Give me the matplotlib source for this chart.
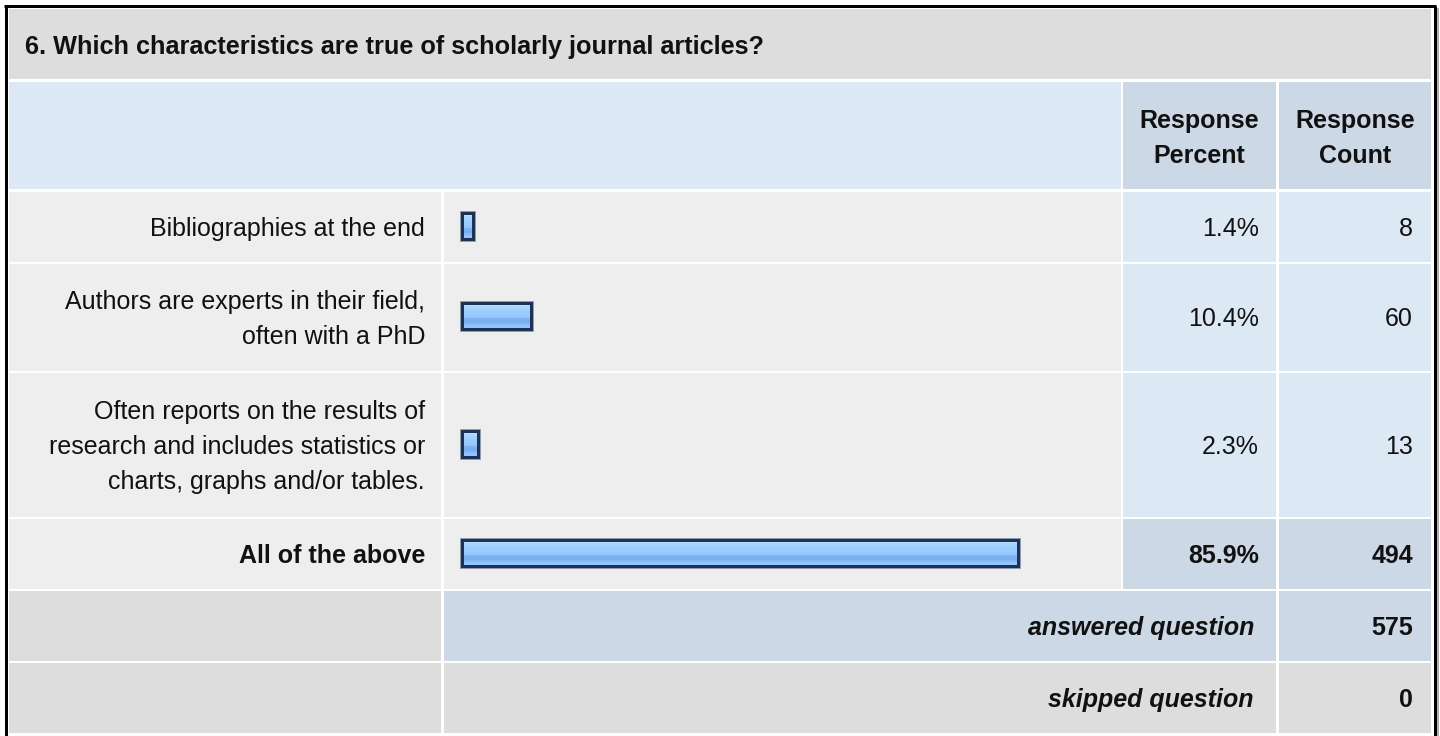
import matplotlib.pyplot as plt
from matplotlib.patches import Rectangle
from matplotlib.colors import to_rgb
import numpy as np

title = '6. Which characteristics are true of scholarly journal articles?'
col_headers = ['Response\nPercent', 'Response\nCount']
answer_labels = ['Bibliographies at the end',
                 'Authors are experts in their field,\noften with a PhD',
                 'Often reports on the results of\nresearch and includes statistics or\ncharts, graphs and/or tables.',
                 'All of the above']
response_percent = [1.4, 10.4, 2.3, 85.9]
response_count = [8, 60, 13, 494]
summary_labels = ['answered question', 'skipped question']
summary_counts = [575, 0]

plt.rcParams['font.family'] = ['Liberation Sans', 'DejaVu Sans']

GREY = '#dddddd'
LIGHT = '#eeeeee'
BLUE = '#dde8f5'
BLUE2 = '#ccd8e6'
FS = 18
LINE = 35
stripes = ['#cde7ff', '#b8deff', '#a8d5ff', '#9fd0ff', '#99ccff', '#99ccff',
           '#94c7fc', '#80b3f1', '#7aaeee', '#84b9f5', '#90c6ff', '#9fd0ff']

fig = plt.figure(figsize=(14.4, 7.36), dpi=100)
ax = fig.add_axes([0, 0, 1, 1])


def cell(x0, x1, y0, y1, color):
    ax.add_patch(Rectangle((x0, y0), x1 - x0, y1 - y0, facecolor=color,
                           edgecolor='none', zorder=1))


def put(x, yc, s, ha='right', weight='normal', style='normal'):
    lines = s.split('\n')
    n = len(lines)
    for i, ln in enumerate(lines):
        yb = yc + (i - (n - 1) / 2) * LINE + FS / 2.1
        ax.text(x, yb, ln, ha=ha, va='baseline', fontsize=FS,
                fontweight=weight, fontstyle=style, color='#111111', zorder=5)


# column edges (pixels)
lab = (9, 441)
bar = (444, 1121)
pct = (1123, 1276)
cnt = (1279, 1431)

# title band
cell(lab[0], cnt[1], 9, 79, GREY)
ax.text(25, 54, title, fontsize=FS + 0.2, fontweight='bold', va='baseline',
        color='#111111', zorder=5)

# header
cell(lab[0], bar[1], 82, 189, BLUE)
cell(pct[0], pct[1], 82, 189, BLUE2)
cell(cnt[0], cnt[1], 82, 189, BLUE2)
put((pct[0] + pct[1]) / 2, 137, col_headers[0], ha='center', weight='bold')
put((cnt[0] + cnt[1]) / 2, 137, col_headers[1], ha='center', weight='bold')

best = int(np.argmax(response_count))
y = 192
for i, (lbl, p, c) in enumerate(zip(answer_labels, response_percent, response_count)):
    n = lbl.count('\n') + 1
    h = 70 + 37 * (n - 1)
    yc = y + h / 2
    hi = i == best
    cell(lab[0], lab[1], y, y + h, LIGHT)
    cell(bar[0], bar[1], y, y + h, LIGHT)
    cell(pct[0], pct[1], y, y + h, BLUE2 if hi else BLUE)
    cell(cnt[0], cnt[1], y, y + h, BLUE2 if hi else BLUE)
    w = 'bold' if hi else 'normal'
    put(425, yc, lbl, weight=w)
    put(1259, yc, f'{p:.1f}%', weight=w)
    put(1413, yc, str(c), weight=w)

    # bar
    x0 = 460
    bw = 5 + 6.46 * p
    y0 = yc - 1.5 - 14.5
    y1 = y0 + 29
    grad = np.array([to_rgb(s) for s in stripes])[:, None, :]
    ax.imshow(grad, extent=(x0, x0 + bw, y1, y0), aspect='auto',
              interpolation='nearest', zorder=2)
    ax.add_patch(Rectangle((x0 - 0.5, y0 - 0.5), bw + 1, 30, fill=False,
                           edgecolor='#8f9db0', lw=0.72, zorder=2.5))
    ax.add_patch(Rectangle((x0 + 1.5, y0 + 1.5), bw - 3, 26, fill=False,
                           edgecolor='#1e3354', lw=2.16, zorder=3))
    y += h + 2

# answered / skipped
sum_colors = [(GREY, BLUE2, BLUE2), (GREY, GREY, GREY)]
for (lbl, c), cols in zip(zip(summary_labels, summary_counts), sum_colors):
    h = 70
    yc = y + h / 2
    cell(lab[0], lab[1], y, y + h, cols[0])
    cell(bar[0], pct[1], y, y + h, cols[1])
    cell(cnt[0], cnt[1], y, y + h, cols[2])
    put(1254, yc, lbl, weight='bold', style='italic')
    put(1413, yc, str(c), weight='bold')
    y += h + 2

# outer frame
ax.plot([5.5, 5.5], [6, 740], color='black', lw=2.16, solid_capstyle='butt', zorder=6)
ax.plot([4, 1436], [6, 6], color='black', lw=2.16, solid_capstyle='butt', zorder=6)
ax.plot([1434.5, 1434.5], [6, 740], color='black', lw=2.16, solid_capstyle='butt', zorder=6)
ax.plot([1437.5, 1437.5], [8, 740], color='#b0b0b0', lw=1.44, solid_capstyle='butt', zorder=6)

ax.set_xlim(0, 1440)
ax.set_ylim(736, 0)
ax.axis('off')
fig.savefig('out.png', dpi=100, facecolor='white')
